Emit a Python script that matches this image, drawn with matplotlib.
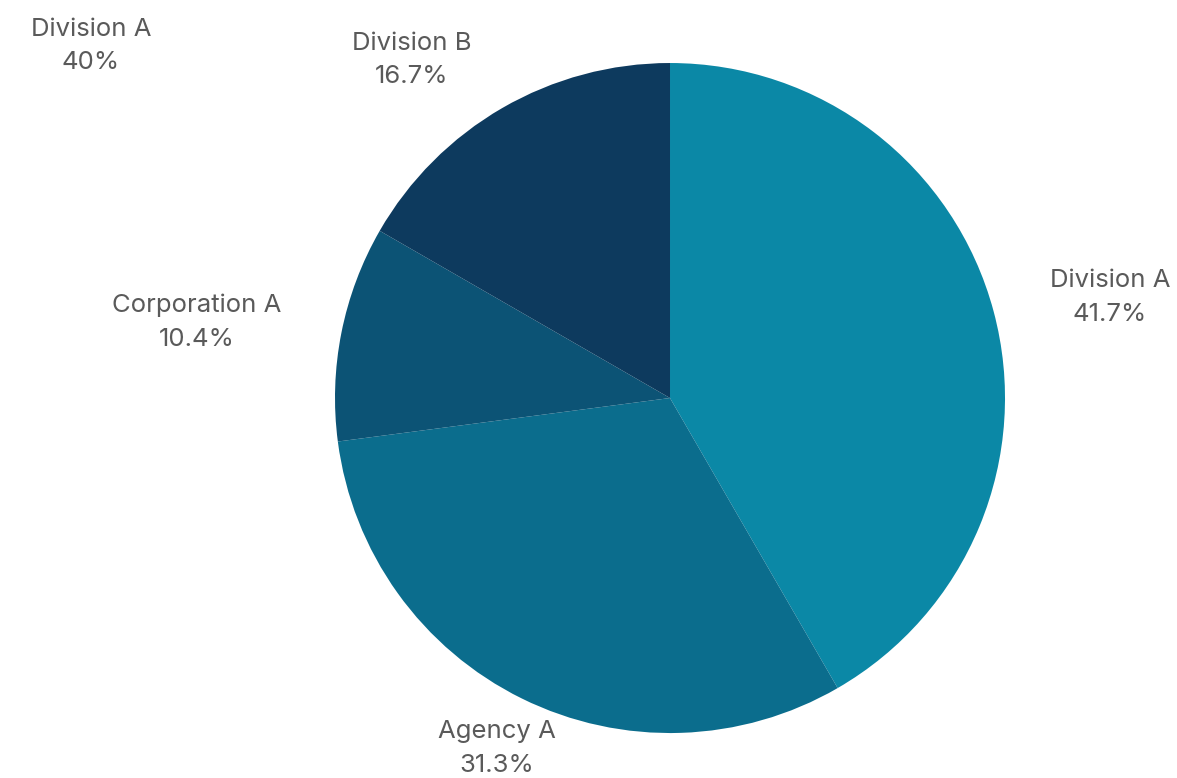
import matplotlib.pyplot as plt

# data
labels = ["Division A", "Agency A", "Corporation A", "Division B"]
shares = [41.7, 31.3, 10.4, 16.7]
colors = ["#0b88a6", "#0b6d8d", "#0c5375", "#0d3a5e"]
# label positions in units of pie radius
label_pos = [(1.313, 0.301), (-0.516, -1.045), (-1.412, 0.227), (-0.770, 1.009)]

plt.rcParams['font.family'] = ['Inter', 'DejaVu Sans']

fig = plt.figure(figsize=(11.77, 7.78), dpi=100)
ax = fig.add_axes([0.2846, 0.0578, 0.5693, 0.8612])
ax.pie(shares, colors=colors, startangle=90, counterclock=False,
       radius=1.0, wedgeprops=dict(linewidth=0))
ax.set_xlim(-1, 1)
ax.set_ylim(-1, 1)
ax.set_aspect('equal')

for lab, val, (x, y) in zip(labels, shares, label_pos):
    ax.text(x, y, f"{lab}\n{val:g}%", ha='center', va='center',
            fontsize=18.5, color='#5a5a5a', linespacing=1.6, clip_on=False)

# odd stray heading in the top-left corner
fig.text(91 / 1177, 1 - 46 / 778, "Division A\n40%", ha='center', va='center',
         fontsize=18.5, color='#5a5a5a', linespacing=1.6)

fig.savefig('out.png', dpi=100)
